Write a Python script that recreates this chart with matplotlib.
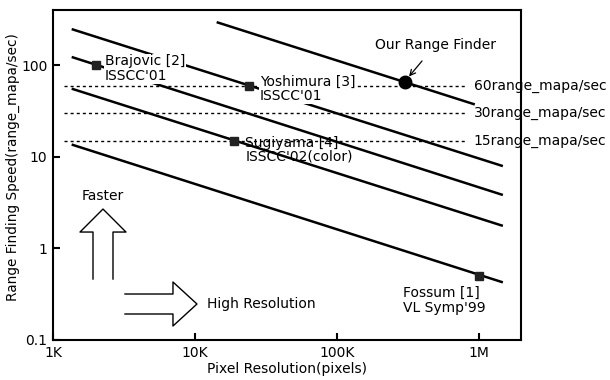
import matplotlib
matplotlib.use("Agg")
import matplotlib.pyplot as plt
from matplotlib.lines import Line2D

plt.rcParams['font.family'] = ['DejaVu Sans']

# trend lines (start/end points)
line_x0 = [14500, 1380, 1380, 1380, 1380]
line_y0 = [293, 246, 122, 55, 13.5]
line_x1 = [920000, 1450000, 1450000, 1450000, 1450000]
line_y1 = [37.7, 8.0, 3.87, 1.78, 0.43]

# devices
dev_names = ["Brajovic [2]\nISSCC'01", "Yoshimura [3]\nISSCC'01",
             "Sugiyama [4]\nISSCC'02(color)", "Fossum [1]\nVL Symp'99"]
dev_x = [2000, 24000, 19000, 1.0e6]
dev_y = [100, 60, 15, 0.5]

ours_x = [300000]
ours_y = [66]

# reference frame rates
ref_rates = [60, 30, 15]
ref_labels = ["60range_mapa/sec", "30range_mapa/sec", "15range_mapa/sec"]
ref_x0 = 1200
ref_x1 = 820000

xticks = [1e3, 1e4, 1e5, 1e6]
xticklabels = ["1K", "10K", "100K", "1M"]
yticks = [0.1, 1, 10, 100]
yticklabels = ["0.1", "1", "10", "100"]

FS = 10

fig = plt.figure(figsize=(6.1, 3.8), dpi=100)
ax = fig.add_axes([0.0869, 0.1053, 0.767, 0.868])
ax.set_xscale('log')
ax.set_yscale('log')
ax.set_xlim(1e3, 1.98e6)
ax.set_ylim(0.1, 400)

for x0, y0, x1, y1 in zip(line_x0, line_y0, line_x1, line_y1):
    ax.plot([x0, x1], [y0, y1], color='black', lw=1.8, zorder=2)

for r in ref_rates:
    ax.plot([ref_x0, ref_x1], [r, r], color='black', lw=1.0,
            linestyle=(0, (2.2, 2.2)), zorder=3)
for r, lab in zip(ref_rates, ref_labels):
    ax.text(920000, r, lab, fontsize=FS, va='center', ha='left',
            clip_on=False, zorder=5)

ax.plot(dev_x, dev_y, 's', color='#222222', markersize=6, zorder=6)
ax.plot(ours_x, ours_y, 'o', color='black', markersize=9, zorder=6)

white = dict(facecolor='white', edgecolor='none', pad=0.5)
# Brajovic
ax.annotate(dev_names[0], xy=(dev_x[0], dev_y[0]), xytext=(9, 11),
            textcoords='offset pixels', fontsize=FS, va='top', ha='left',
            linespacing=1.05, bbox=white, zorder=4)
# Yoshimura
ax.annotate(dev_names[1], xy=(dev_x[1], dev_y[1]), xytext=(11, 11),
            textcoords='offset pixels', fontsize=FS, va='top', ha='left',
            linespacing=1.05, bbox=white, zorder=4)
# Sugiyama
ax.annotate(dev_names[2], xy=(dev_x[2], dev_y[2]), xytext=(11, 5),
            textcoords='offset pixels', fontsize=FS, va='top', ha='left',
            linespacing=1.0, zorder=2.5)
# Fossum
ax.annotate(dev_names[3], xy=(dev_x[3], dev_y[3]), xytext=(-76, -10),
            textcoords='offset pixels', fontsize=FS, va='top', ha='left',
            linespacing=1.05, zorder=4)
# Our range finder
ax.annotate("Our Range Finder", xy=(ours_x[0], ours_y[0]), xytext=(31, 37),
            textcoords='offset pixels', fontsize=FS, va='center', ha='center',
            arrowprops=dict(arrowstyle='->', color='black', lw=0.9,
                            shrinkA=6, shrinkB=5), zorder=4)

# block arrows (axes fraction coords)
T = ax.transAxes
def fx(px):
    return (px - 53) / 468.0
def fy(py):
    return (340 - py) / 330.0

up = [(93, 279), (93, 232), (80, 232), (103, 209), (126, 232), (113, 232), (113, 279)]
ax.add_line(Line2D([fx(p[0]) for p in up], [fy(p[1]) for p in up],
                   transform=T, color='black', lw=1.0))
right = [(125, 294), (173, 294), (173, 282), (197, 304), (173, 326), (173, 314), (125, 314)]
ax.add_line(Line2D([fx(p[0]) for p in right], [fy(p[1]) for p in right],
                   transform=T, color='black', lw=1.0))
ax.text(fx(103), fy(196), "Faster", transform=T, fontsize=FS, ha='center', va='center')
ax.text(fx(207), fy(304), "High Resolution", transform=T, fontsize=FS, ha='left', va='center')

ax.set_xticks(xticks)
ax.set_xticklabels(xticklabels)
ax.set_yticks(yticks)
ax.set_yticklabels(yticklabels)
ax.minorticks_off()
ax.tick_params(direction='in', length=5, width=1.5, labelsize=10, pad=4)
for s in ax.spines.values():
    s.set_linewidth(1.5)

ax.set_xlabel("Pixel Resolution(pixels)", fontsize=10, labelpad=2)
ax.set_ylabel("Range Finding Speed(range_mapa/sec)", fontsize=9.8)
ax.yaxis.set_label_coords(-0.07, 0.524)

fig.savefig("out.png", dpi=100)
